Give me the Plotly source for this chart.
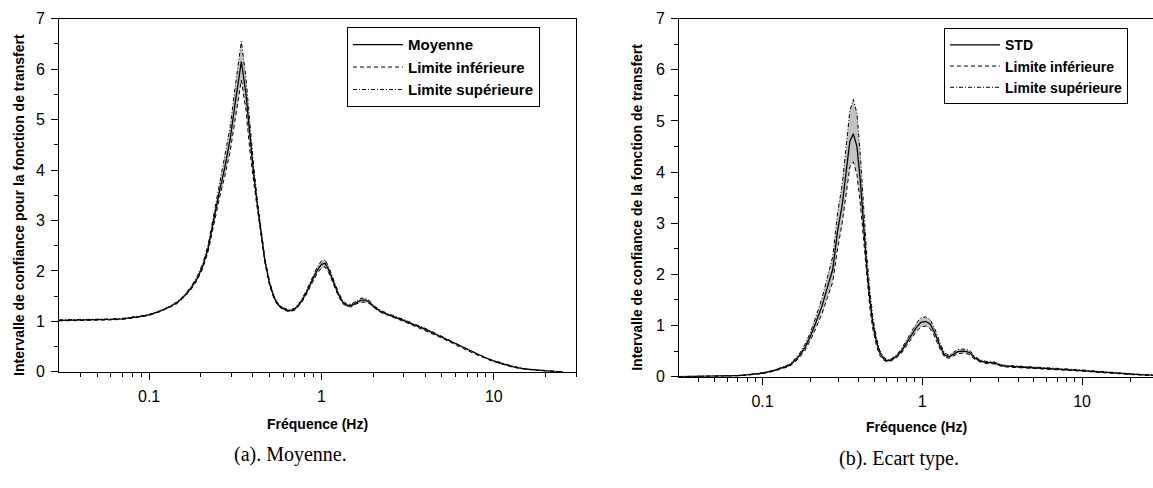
import numpy as np
import plotly.graph_objects as go

# ---- (a) mean transfer function with confidence limits ----
freq_a = [0.03, 0.04, 0.05, 0.06, 0.07, 0.08, 0.09, 0.1,
          0.115, 0.13, 0.145, 0.16, 0.175, 0.19, 0.205, 0.22, 0.235,
          0.255, 0.275, 0.295, 0.315, 0.343,
          0.365, 0.385, 0.405, 0.425, 0.445, 0.47, 0.5, 0.53, 0.56, 0.6,
          0.65, 0.7, 0.76, 0.82, 0.88, 0.94, 1.0,
          1.05, 1.1, 1.17, 1.25, 1.33, 1.42, 1.5, 1.6, 1.7, 1.8, 1.9, 2.0,
          2.2, 2.45, 2.7, 3.0, 3.4, 3.9, 4.5, 5.2, 6.0, 7.0, 8.2, 9.5,
          11, 13, 15, 17.5, 20, 22.5, 25]
mean_a = [1.02, 1.025, 1.03, 1.04, 1.05, 1.07, 1.10, 1.13,
          1.20, 1.28, 1.37, 1.50, 1.66, 1.85, 2.10, 2.45, 2.95,
          3.55, 4.05, 4.60, 5.30, 6.15,
          5.50, 4.60, 3.90, 3.30, 2.80, 2.20, 1.75, 1.48, 1.33, 1.25,
          1.21, 1.24, 1.38, 1.58, 1.80, 2.00, 2.13,
          2.15, 2.03, 1.80, 1.55, 1.38, 1.31, 1.32, 1.38, 1.42, 1.42, 1.38, 1.30,
          1.20, 1.13, 1.08, 1.02, 0.94, 0.86, 0.76, 0.66, 0.55, 0.44, 0.33, 0.24,
          0.17, 0.10, 0.06, 0.035, 0.02, 0.01, 0.005]
upper_a = [1.03, 1.035, 1.04, 1.05, 1.06, 1.08, 1.11, 1.14,
           1.21, 1.29, 1.39, 1.52, 1.69, 1.89, 2.15, 2.52, 3.04,
           3.68, 4.22, 4.84, 5.62, 6.55,
           5.82, 4.84, 4.06, 3.40, 2.87, 2.25, 1.79, 1.51, 1.35, 1.27,
           1.23, 1.26, 1.41, 1.62, 1.85, 2.06, 2.20,
           2.22, 2.09, 1.85, 1.59, 1.41, 1.33, 1.35, 1.41, 1.46, 1.46, 1.41, 1.32,
           1.22, 1.15, 1.10, 1.04, 0.96, 0.88, 0.78, 0.68, 0.57, 0.455, 0.34, 0.25,
           0.18, 0.11, 0.065, 0.04, 0.025, 0.013, 0.008]
lower_a = [1.01, 1.015, 1.02, 1.03, 1.04, 1.06, 1.09, 1.12,
           1.19, 1.27, 1.35, 1.48, 1.63, 1.81, 2.05, 2.38, 2.86,
           3.42, 3.88, 4.36, 4.98, 5.78,
           5.18, 4.36, 3.74, 3.20, 2.73, 2.15, 1.71, 1.45, 1.31, 1.23,
           1.19, 1.22, 1.35, 1.54, 1.75, 1.94, 2.06,
           2.08, 1.97, 1.75, 1.51, 1.35, 1.29, 1.29, 1.35, 1.38, 1.38, 1.35, 1.28,
           1.18, 1.11, 1.06, 1.00, 0.92, 0.84, 0.74, 0.64, 0.53, 0.425, 0.32, 0.23,
           0.16, 0.09, 0.055, 0.03, 0.015, 0.007, 0.003]

# ---- (b) standard deviation of the transfer function with confidence limits ----
freq_b = [0.03, 0.04, 0.05, 0.06, 0.07, 0.08, 0.09, 0.1,
          0.115, 0.13, 0.147, 0.16, 0.172, 0.185, 0.2, 0.215, 0.235,
          0.255, 0.275, 0.295, 0.315, 0.335, 0.352, 0.37,
          0.39, 0.41, 0.43, 0.45, 0.47, 0.49, 0.515, 0.54, 0.57, 0.6,
          0.64, 0.69, 0.74, 0.8, 0.86, 0.92, 0.98,
          1.05, 1.12, 1.2, 1.29, 1.38, 1.47, 1.57, 1.67, 1.78, 1.9, 2.0,
          2.12, 2.3, 2.5, 2.8, 3.0, 3.2, 3.6, 4.2, 5.0, 6.0, 7.0, 8.5, 10,
          12, 14.5, 17.5, 21, 24.5, 28]
std_b = [0.002, 0.004, 0.007, 0.012, 0.02, 0.035, 0.05, 0.07,
         0.11, 0.16, 0.22, 0.32, 0.43, 0.58, 0.80, 1.05, 1.37,
         1.75, 2.10, 2.85, 3.35, 4.05, 4.60, 4.75,
         4.50, 3.80, 2.90, 2.10, 1.50, 1.05, 0.70, 0.48, 0.36, 0.31,
         0.33, 0.40, 0.50, 0.66, 0.82, 0.97, 1.06,
         1.08, 1.03, 0.85, 0.60, 0.42, 0.39, 0.44, 0.49, 0.50, 0.49, 0.46,
         0.37, 0.31, 0.28, 0.27, 0.24, 0.21, 0.20, 0.19, 0.17, 0.16, 0.15, 0.135, 0.12,
         0.10, 0.08, 0.06, 0.045, 0.035, 0.03]
upper_b = [0.004, 0.006, 0.01, 0.016, 0.025, 0.04, 0.057, 0.08,
           0.12, 0.175, 0.24, 0.35, 0.47, 0.64, 0.88, 1.16, 1.52,
           1.95, 2.35, 3.20, 3.75, 4.55, 5.20, 5.42,
           5.15, 4.30, 3.25, 2.35, 1.68, 1.17, 0.78, 0.52, 0.39, 0.33,
           0.35, 0.43, 0.54, 0.71, 0.89, 1.05, 1.15,
           1.17, 1.12, 0.93, 0.66, 0.46, 0.42, 0.48, 0.53, 0.54, 0.53, 0.50,
           0.40, 0.33, 0.30, 0.29, 0.26, 0.225, 0.215, 0.205, 0.185, 0.175, 0.165, 0.148, 0.132,
           0.11, 0.09, 0.068, 0.052, 0.041, 0.035]
lower_b = [0.0, 0.002, 0.004, 0.008, 0.015, 0.03, 0.043, 0.06,
           0.10, 0.145, 0.20, 0.29, 0.39, 0.52, 0.72, 0.94, 1.22,
           1.55, 1.85, 2.50, 3.00, 3.60, 4.10, 4.20,
           3.95, 3.35, 2.60, 1.88, 1.33, 0.93, 0.62, 0.42, 0.33, 0.29,
           0.31, 0.37, 0.46, 0.61, 0.75, 0.89, 0.97,
           0.99, 0.94, 0.77, 0.54, 0.38, 0.36, 0.40, 0.45, 0.46, 0.45, 0.42,
           0.34, 0.29, 0.26, 0.25, 0.22, 0.195, 0.185, 0.175, 0.155, 0.145, 0.135, 0.122, 0.108,
           0.09, 0.07, 0.052, 0.038, 0.029, 0.025]

major_ticks = [0.1, 1, 10]
major_labels = ["0.1", "1", "10"]
minor_ticks = [0.04, 0.05, 0.06, 0.07, 0.08, 0.09,
               0.2, 0.3, 0.4, 0.5, 0.6, 0.7, 0.8, 0.9,
               2, 3, 4, 5, 6, 7, 8, 9, 20, 30]

W, H = 1153, 488
SANS = "Liberation Sans, Arial, sans-serif"
SERIF = "Liberation Serif, Times New Roman, serif"
BAND = "#c3c3c3"

fig = go.Figure()


def add_panel(freq, centre, lower, upper, centre_name, xa, ya, legend):
    # shaded confidence band
    fig.add_trace(go.Scatter(x=freq, y=lower, mode="lines", line=dict(width=0),
                             showlegend=False, hoverinfo="skip", xaxis=xa, yaxis=ya))
    fig.add_trace(go.Scatter(x=freq, y=upper, mode="lines", line=dict(width=0),
                             fill="tonexty", fillcolor=BAND, showlegend=False,
                             hoverinfo="skip", xaxis=xa, yaxis=ya))
    # curves
    fig.add_trace(go.Scatter(x=freq, y=centre, mode="lines", name=centre_name,
                             line=dict(color="black", width=1.3),
                             xaxis=xa, yaxis=ya, legend=legend, legendgroup=legend + "c"))
    fig.add_trace(go.Scatter(x=freq, y=lower, mode="lines", name="Limite inférieure",
                             line=dict(color="black", width=1, dash="4px,3px"),
                             xaxis=xa, yaxis=ya, legend=legend, legendgroup=legend + "l"))
    fig.add_trace(go.Scatter(x=freq, y=upper, mode="lines", name="Limite supérieure",
                             line=dict(color="black", width=1, dash="4px,2px,1px,2px"),
                             xaxis=xa, yaxis=ya, legend=legend, legendgroup=legend + "u"))


add_panel(freq_a, mean_a, lower_a, upper_a, "Moyenne", "x", "y", "legend")
add_panel(freq_b, std_b, lower_b, upper_b, "STD", "x2", "y2", "legend2")

tickfont = dict(family=SANS, size=16, color="black")


def xaxis_cfg(domain, rng, anchor):
    return dict(type="log", domain=domain, range=rng, anchor=anchor,
                showline=True, linecolor="black", linewidth=1, mirror=True,
                ticks="outside", ticklen=7, tickwidth=1, tickcolor="black",
                tickmode="array", tickvals=major_ticks, ticktext=major_labels,
                minor=dict(tickmode="array", tickvals=minor_ticks, ticks="outside",
                           ticklen=4, tickwidth=1, tickcolor="black", showgrid=False),
                showgrid=False, zeroline=False, tickfont=tickfont,
                ticklabelstandoff=3)


def yaxis_cfg(domain, anchor, mirror):
    return dict(domain=domain, range=[0, 7], anchor=anchor,
                showline=True, linecolor="black", linewidth=1, mirror=mirror,
                ticks="outside", ticklen=7, tickwidth=1, tickcolor="black",
                tickmode="array", tickvals=list(range(8)),
                minor=dict(tickmode="linear", tick0=0.5, dtick=1, ticks="outside",
                           ticklen=4, tickwidth=1, tickcolor="black", showgrid=False),
                showgrid=False, zeroline=False, tickfont=tickfont,
                ticklabelstandoff=3)


def legend_style(size):
    return dict(bgcolor="white", bordercolor="black", borderwidth=1,
                font=dict(family=SANS, size=size, color="black", weight="bold"),
                xanchor="left", yanchor="top", tracegroupgap=6,
                itemwidth=50, traceorder="normal")


fig.update_layout(
    width=W, height=H,
    margin=dict(l=0, r=0, t=0, b=0),
    paper_bgcolor="white", plot_bgcolor="white",
    xaxis=xaxis_cfg([59 / W, 576 / W], [np.log10(0.03), np.log10(30)], "y"),
    yaxis=yaxis_cfg([(H - 377) / H, (H - 11) / H], "x", True),
    xaxis2=xaxis_cfg([679 / W, 1.0], [np.log10(0.03), 1.444], "y2"),
    yaxis2=yaxis_cfg([(H - 382) / H, (H - 11) / H], "x2", False),
    legend=dict(x=347 / W, y=1 - 20 / H, **legend_style(15)),
    legend2=dict(x=944 / W, y=1 - 21 / H, **legend_style(14)),
)

title_font = dict(family=SANS, size=14, color="black", weight="bold")
caption_font = dict(family=SERIF, size=20, color="black")
annotations = [
    dict(text="Intervalle de confiance pour la fonction de transfert",
         x=19 / W, y=1 - 204 / H, textangle=-90, font=title_font),
    dict(text="Intervalle de confiance de la fonction de transfert",
         x=637 / W, y=1 - 207 / H, textangle=-90, font=title_font),
    dict(text="Fréquence (Hz)", x=317 / W, y=1 - 431 / H, font=title_font),
    dict(text="Fréquence (Hz)", x=916 / W, y=1 - 434 / H, font=title_font),
    dict(text="(a). Moyenne.", x=290 / W, y=1 - 463 / H, font=caption_font),
    dict(text="(b). Ecart type.", x=899 / W, y=1 - 467 / H, font=caption_font),
]
for a in annotations:
    fig.add_annotation(xref="paper", yref="paper", showarrow=False,
                       xanchor="center", yanchor="middle", **a)

fig.write_html("out.html", config={"displayModeBar": False})
